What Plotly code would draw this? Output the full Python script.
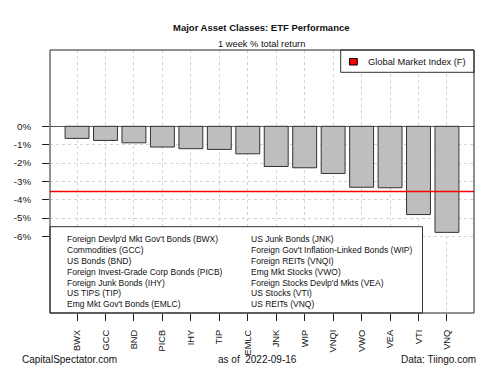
import plotly.graph_objects as go

tickers = ["BWX", "GCC", "BND", "PICB", "IHY", "TIP", "EMLC", "JNK", "WIP",
           "VNQI", "VWO", "VEA", "VTI", "VNQ"]
names = ["Foreign Devlp'd Mkt Gov't Bonds", "Commodities", "US Bonds",
         "Foreign Invest-Grade Corp Bonds", "Foreign Junk Bonds", "US TIPS",
         "Emg Mkt Gov't Bonds", "US Junk Bonds",
         "Foreign Gov't Inflation-Linked Bonds", "Foreign REITs",
         "Emg Mkt Stocks", "Foreign Stocks Devlp'd Mkts", "US Stocks", "US REITs"]
returns = [-0.66, -0.77, -0.90, -1.13, -1.22, -1.26, -1.50, -2.19, -2.26,
           -2.57, -3.32, -3.35, -4.81, -5.78]
gmi_return = -3.55
y_ticks = [0, -1, -2, -3, -4, -5, -6]
y_tick_labels = [f"{v}%" for v in y_ticks]
as_of = "2022-09-16"

FONT = "Liberation Sans, Arial, sans-serif"

# plot area in pixels
L, R, T, B = 50, 474, 50, 313
W, H = R - L, B - T


def px(x):
    return (x - L) / W


def py(y):
    return (B - y) / H


fig = go.Figure()
fig.add_trace(go.Bar(
    x=tickers, y=returns, width=0.84,
    marker=dict(color="#bebebe", line=dict(color="#333333", width=1)),
    showlegend=False, hoverinfo="skip",
))

shapes = []
# red GMI line
shapes.append(dict(type="line", xref="paper", yref="y", x0=0, x1=1,
                   y0=gmi_return, y1=gmi_return,
                   line=dict(color="#ff0000", width=1.5), layer="above"))
# bottom legend box
shapes.append(dict(type="rect", xref="paper", yref="paper",
                   x0=0, x1=px(422.5), y0=0, y1=py(226.7),
                   fillcolor="white", line=dict(color="#333333", width=1),
                   layer="above"))
# top-right legend box
shapes.append(dict(type="rect", xref="paper", yref="paper",
                   x0=px(340.7), x1=1, y0=py(72.3), y1=1,
                   fillcolor="white", line=dict(color="#333333", width=1),
                   layer="above"))
shapes.append(dict(type="rect", xref="paper", yref="paper",
                   x0=px(349.5), x1=px(357.3), y0=py(65), y1=py(58.5),
                   fillcolor="#ff0000", line=dict(color="#000000", width=1),
                   layer="above"))
# frame
shapes.append(dict(type="rect", xref="paper", yref="paper",
                   x0=0, x1=1, y0=0, y1=1,
                   line=dict(color="#222222", width=1), layer="above"))

annotations = []
annotations.append(dict(text="<b>Major Asset Classes: ETF Performance</b>",
                        xref="paper", yref="paper", x=px(261), y=py(20),
                        showarrow=False, font=dict(size=9.5, color="#111111")))
annotations.append(dict(text="1 week % total return",
                        xref="paper", yref="paper", x=px(261), y=py(37),
                        showarrow=False, font=dict(size=9.3, color="#111111")))
annotations.append(dict(text="Global Market Index (F)",
                        xref="paper", yref="paper", x=px(366), y=py(62),
                        xanchor="left", yanchor="middle", showarrow=False,
                        font=dict(size=9.3, color="#111111")))

labels = [f"{n} ({t})" for n, t in zip(names, tickers)]
half = (len(labels) + 1) // 2
row_y = [239.3 + 10.8 * i for i in range(half)]
for i, lab in enumerate(labels):
    col = i // half
    row = i % half
    annotations.append(dict(text=lab, xref="paper", yref="paper",
                            x=px(65.3 if col == 0 else 249.3), y=py(row_y[row]),
                            xanchor="left", yanchor="middle", showarrow=False,
                            font=dict(size=8.5, color="#111111")))

annotations.append(dict(text="CapitalSpectator.com", xref="paper", yref="paper",
                        x=px(20), y=py(367), xanchor="left", showarrow=False,
                        font=dict(size=10, color="#111111")))
annotations.append(dict(text=f"as of  {as_of}", xref="paper", yref="paper",
                        x=px(257), y=py(367), xanchor="center", showarrow=False,
                        font=dict(size=10, color="#111111")))
annotations.append(dict(text="Data: Tiingo.com", xref="paper", yref="paper",
                        x=px(478), y=py(367), xanchor="right", showarrow=False,
                        font=dict(size=10, color="#111111")))

y0px = 126.3
per = 18.35
y_top = (y0px - T) / per
y_bot = -(B - y0px) / per

fig.update_layout(
    width=500, height=375,
    margin=dict(l=L, r=500 - R, t=T, b=375 - B, pad=0),
    paper_bgcolor="white", plot_bgcolor="white",
    font=dict(family=FONT, size=9.5, color="#111111"),
    shapes=shapes, annotations=annotations,
    showlegend=False,
    xaxis=dict(range=[-0.95, 13.95], tickangle=-90, ticks="outside",
               ticklen=7, tickcolor="#222222", showgrid=True,
               gridcolor="#d3d3d3", griddash="dot", gridwidth=1,
               showline=False, zeroline=False, tickfont=dict(size=9.3),
               ticklabelstandoff=5, automargin=False, fixedrange=True),
    yaxis=dict(range=[y_bot, y_top], tickvals=y_ticks, ticktext=y_tick_labels,
               ticks="outside", ticklen=7, tickcolor="#222222",
               showgrid=True, gridcolor="#d3d3d3", griddash="dot",
               gridwidth=1, zeroline=True, zerolinecolor="#555555",
               zerolinewidth=1, showline=False, tickfont=dict(size=9.7),
               ticklabelstandoff=9, automargin=False, fixedrange=True),
)

fig.write_html(
    "out.html",
    config={"displayModeBar": False, "staticPlot": True},
    post_script="document.body.style.margin='0';document.body.style.overflow='hidden';",
)
